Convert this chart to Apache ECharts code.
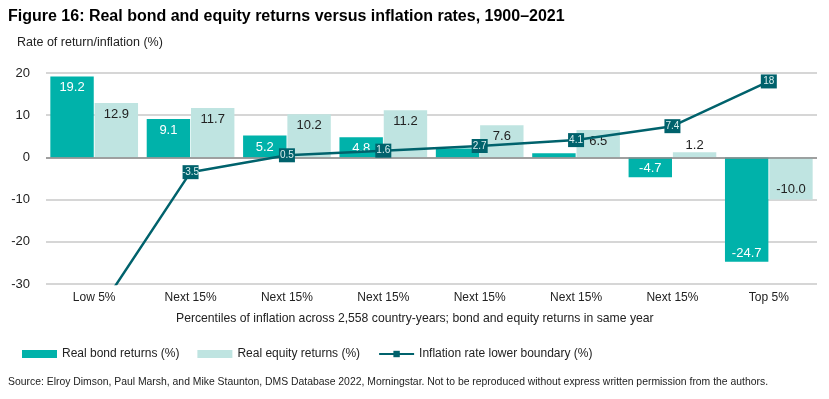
<!DOCTYPE html>
<html>
<head>
<meta charset="utf-8">
<script src="https://cdn.jsdelivr.net/npm/echarts@6/dist/echarts.min.js"></script>
<style>
  html, body { margin: 0; padding: 0; background: #fff; }
  #main { width: 829px; height: 399px; }
</style>
</head>
<body>
<div id="main"></div>
<script>
var categories = ['Low 5%', 'Next 15%', 'Next 15%', 'Next 15%', 'Next 15%', 'Next 15%', 'Next 15%', 'Top 5%'];
var bondReturns = [19.2, 9.1, 5.2, 4.8, 2.1, 1.0, -4.7, -24.7];
var equityReturns = [12.9, 11.7, 10.2, 11.2, 7.6, 6.5, 1.2, -10.0];
var inflationBoundary = [-38, -3.5, 0.5, 1.6, 2.7, 4.1, 7.4, 18];
var yTicks = [-30, -20, -10, 0, 10, 20];

var bondColor = '#00b2aa';
var equityColor = '#bfe4e1';
var lineColor = '#00626c';
var font = 'Liberation Sans, Arial, sans-serif';

var chartDom = document.getElementById('main');
var myChart = echarts.init(chartDom);

// labels: inside the top of positive bars, inside the bottom of negative ones
function bondItem(v, i) {
  var hidden = (i === 4 || i === 5);
  return {
    value: v,
    label: { show: !hidden, position: v < 0 ? 'insideBottom' : 'insideTop', distance: v < 0 ? 2 : 5 }
  };
}
function equityItem(v) {
  var pos = v < 0 ? 'insideBottom' : (v < 3 ? 'top' : 'insideTop');
  return { value: v, label: { position: pos, distance: v < 0 ? 4 : (v < 3 ? 0 : 5) } };
}

var option = {
  animation: false,
  textStyle: { fontFamily: font },
  title: {
    text: 'Figure 16: Real bond and equity returns versus inflation rates, 1900\u20132021',
    left: 3,
    top: 4,
    textStyle: { fontSize: 16, fontWeight: 'bold', color: '#000', fontFamily: font }
  },
  graphic: [
    {
      type: 'text', left: 17, top: 36,
      style: { text: 'Rate of return/inflation (%)', fontSize: 12.5, fill: '#222', fontFamily: font }
    },
    {
      type: 'text', left: 176, top: 313,
      style: {
        text: 'Percentiles of inflation across 2,558 country-years; bond and equity returns in same year',
        fontSize: 12.2, fill: '#222', fontFamily: font
      }
    },
    {
      type: 'text', left: 8, top: 377,
      style: {
        text: 'Source: Elroy Dimson, Paul Marsh, and Mike Staunton, DMS Database 2022, Morningstar. Not to be reproduced without express written permission from the authors.',
        fontSize: 10.4, fill: '#222', fontFamily: font
      }
    }
  ],
  legend: {
    left: 17,
    top: 343,
    itemWidth: 35,
    itemHeight: 8,
    itemGap: 18,
    textStyle: { fontSize: 12, color: '#222', fontFamily: font },
    data: [
      { name: 'Real bond returns (%)', icon: 'rect' },
      { name: 'Real equity returns (%)', icon: 'rect' },
      { name: 'Inflation rate lower boundary (%)' }
    ]
  },
  grid: { left: 46, right: 12, top: 73, bottom: 115 },
  xAxis: {
    type: 'category',
    data: categories,
    axisLine: { show: false },
    axisTick: { show: false },
    axisLabel: { fontSize: 12, color: '#222', margin: 8 }
  },
  yAxis: {
    type: 'value',
    min: yTicks[0],
    max: yTicks[yTicks.length - 1],
    interval: 10,
    axisLine: { show: false },
    axisTick: { show: false },
    axisLabel: { fontSize: 13, color: '#222', margin: 16 },
    splitLine: { lineStyle: { color: '#c8c8c8', width: 1.5 } }
  },
  series: [
    {
      name: 'Real bond returns (%)',
      type: 'bar',
      data: bondReturns.map(bondItem),
      itemStyle: { color: bondColor },
      barGap: '2%',
      barCategoryGap: '9%',
      label: { show: true, color: '#fff', fontSize: 13, formatter: function (p) { return p.value.toFixed(1); } },
      markLine: {
        silent: true,
        symbol: 'none',
        label: { show: false },
        lineStyle: { color: '#8c8c8c', type: 'solid', width: 1.5 },
        data: [{ yAxis: 0 }]
      }
    },
    {
      name: 'Real equity returns (%)',
      type: 'bar',
      data: equityReturns.map(equityItem),
      itemStyle: { color: equityColor },
      label: { show: true, color: '#222', fontSize: 13, formatter: function (p) { return p.value.toFixed(1); } }
    },
    {
      name: 'Inflation rate lower boundary (%)',
      type: 'line',
      data: inflationBoundary,
      z: 5,
      clip: true,
      symbol: 'rect',
      symbolSize: [16, 14],
      showAllSymbol: true,
      itemStyle: { color: lineColor },
      lineStyle: { color: lineColor, width: 2.5 },
      label: { show: true, position: 'inside', color: '#d8eeee', fontSize: 10 }
    }
  ]
};

option && myChart.setOption(option);
</script>
</body>
</html>
